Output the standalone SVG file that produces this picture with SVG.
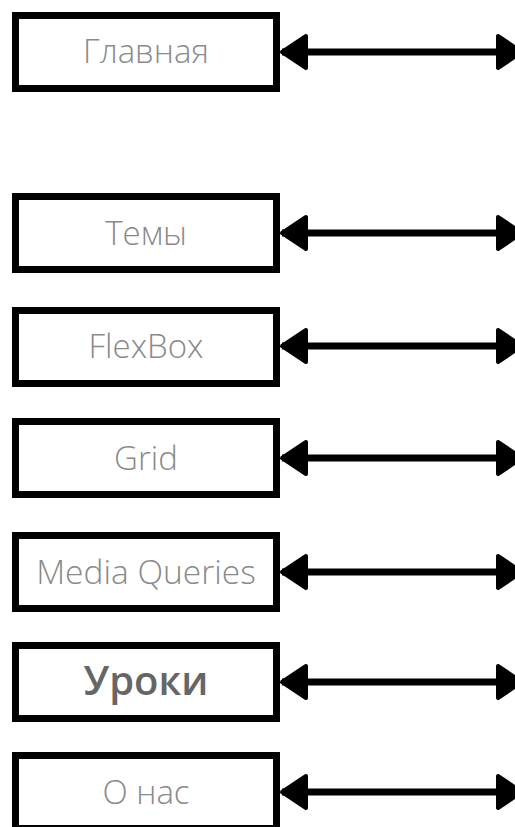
<svg xmlns="http://www.w3.org/2000/svg" width="515" height="827" viewBox="0 0 515 827">
  <style>
    .box { fill: #ffffff; stroke: #000000; stroke-width: 7; }
    .lbl { font-family: "Open Sans", "Noto Sans", "DejaVu Sans", sans-serif; font-weight: 300; font-size: 33px; fill: #8a8a8a; text-anchor: middle; }
    .strong { font-weight: 600; font-size: 40px; fill: #666666; }
    .link { stroke: #000000; stroke-width: 7; fill: none; marker-start: url(#head); marker-end: url(#head); }
  </style>
  <defs>
    <marker id="head" markerUnits="userSpaceOnUse" viewBox="-4 -20 32 40" markerWidth="32" markerHeight="40" refX="24" refY="0" orient="auto-start-reverse" overflow="visible">
      <path d="M0,-16 L24,0 L0,16 Z" fill="#000000" stroke="#000000" stroke-width="4" stroke-linejoin="round"/>
    </marker>
  </defs>
  <rect width="515" height="827" fill="#ffffff"/>
  <g id="nodes">
    <g id="node-glavnaya">
      <rect class="box" x="15.5" y="15.5" width="261" height="73"/>
      <text class="lbl" x="146" y="63">Главная</text>
    </g>
    <g id="node-temy">
      <rect class="box" x="15.5" y="196.5" width="261" height="73"/>
      <text class="lbl" x="146" y="245">Темы</text>
    </g>
    <g id="node-flexbox">
      <rect class="box" x="15.5" y="310.5" width="261" height="73"/>
      <text class="lbl" x="146" y="358">FlexBox</text>
    </g>
    <g id="node-grid">
      <rect class="box" x="15.5" y="421.5" width="261" height="73"/>
      <text class="lbl" x="146" y="470">Grid</text>
    </g>
    <g id="node-media">
      <rect class="box" x="15.5" y="535.5" width="261" height="73"/>
      <text class="lbl" x="146" y="584" style="font-size:33.5px">Media Queries</text>
    </g>
    <g id="node-uroki">
      <rect class="box" x="15.5" y="645.5" width="261" height="73"/>
      <text class="lbl strong" x="146" y="695">Уроки</text>
    </g>
    <g id="node-onas">
      <rect class="box" x="15.5" y="755.5" width="261" height="73"/>
      <text class="lbl" x="146" y="804">О нас</text>
    </g>
  </g>
  <g id="connectors">
    <path class="link" d="M282,52 L522,52"/>
    <path class="link" d="M282,233 L522,233"/>
    <path class="link" d="M282,346 L522,346"/>
    <path class="link" d="M282,458 L522,458"/>
    <path class="link" d="M282,572 L522,572"/>
    <path class="link" d="M282,682 L522,682"/>
    <path class="link" d="M282,792 L522,792"/>
  </g>
</svg>
